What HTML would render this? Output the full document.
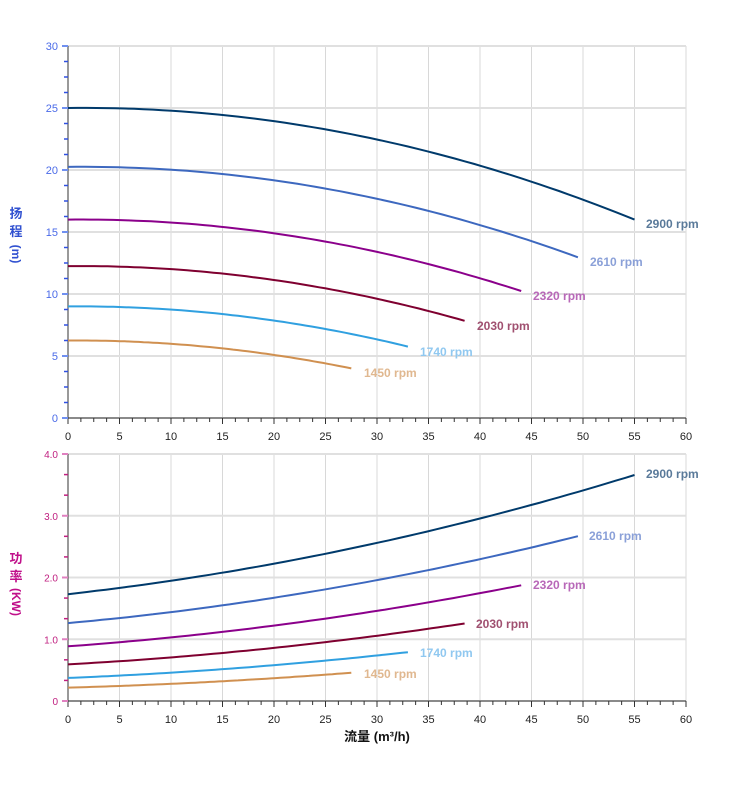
<!DOCTYPE html><html><head><meta charset="utf-8"><style>body{margin:0;background:#fff}svg{display:block}text{font-family:"Liberation Sans","Noto Sans CJK SC",sans-serif}</style></head><body>
<svg id="s" width="752" height="797" xmlns="http://www.w3.org/2000/svg"></svg>
<script>
const s=document.getElementById('s');let h='';
const X=q=>68+q*10.3, YT=v=>418-v*12.4, YB=v=>701-v*61.75;
for(let q=0;q<=60;q+=5){h+=`<line x1="${X(q)}" y1="46" x2="${X(q)}" y2="418" stroke="#d8d8d8"/><line x1="${X(q)}" y1="454" x2="${X(q)}" y2="701" stroke="#d8d8d8"/>`;}
for(let v=0;v<=30;v+=5)h+=`<line x1="68" y1="${YT(v)}" x2="686" y2="${YT(v)}" stroke="#e0e0e0" stroke-width="2"/>`;
for(let v=0;v<=4;v++)h+=`<line x1="68" y1="${YB(v)}" x2="686" y2="${YB(v)}" stroke="#e0e0e0" stroke-width="2"/>`;
h+=`<line x1="68" y1="46" x2="68" y2="418" stroke="#333"/><line x1="68" y1="418" x2="686" y2="418" stroke="#333"/>`;
h+=`<line x1="68" y1="454" x2="68" y2="701" stroke="#333"/><line x1="68" y1="701" x2="686" y2="701" stroke="#333"/>`;
for(let q=0;q<=60;q+=1.25){const L=q%5==0?6:4;h+=`<line x1="${X(q)}" y1="418" x2="${X(q)}" y2="${418+L}" stroke="#333"/><line x1="${X(q)}" y1="701" x2="${X(q)}" y2="${701+L}" stroke="#333"/>`;}
for(let q=0;q<=60;q+=5){h+=`<text x="${X(q)}" y="440" font-size="11" text-anchor="middle" fill="#222">${q}</text><text x="${X(q)}" y="723" font-size="11" text-anchor="middle" fill="#222">${q}</text>`;}
for(let v=0;v<=30;v+=1.25){const M=v%5==0;h+=`<line x1="${M?62:64}" y1="${YT(v)}" x2="68" y2="${YT(v)}" stroke="${M?'#7090f0':'#3050e0'}" stroke-width="${M?2:1.5}"/>`;if(M)h+=`<text x="58" y="${YT(v)+4}" font-size="11" text-anchor="end" fill="#4a6ae8">${v}</text>`;}
for(let i=0;i<=12;i++){const v=i/3,M=i%3==0;h+=`<line x1="${M?62:64}" y1="${YB(v)}" x2="68" y2="${YB(v)}" stroke="${M?'#e080c0':'#c02080'}" stroke-width="${M?2:1.5}"/>`;if(M)h+=`<text x="58" y="${YB(v)+4}" font-size="10" text-anchor="end" fill="#c02080">${i==0?'0':v.toFixed(1)}</text>`;}
h+=`<text x="16" y="218" font-size="13" font-weight="bold" fill="#3050d0" text-anchor="middle">扬</text><text x="16" y="236" font-size="13" font-weight="bold" fill="#3050d0" text-anchor="middle">程</text><text transform="translate(12,254) rotate(90)" font-size="12" font-weight="bold" fill="#3050d0" text-anchor="middle">(m)</text>`;
h+=`<text x="16" y="563" font-size="13" font-weight="bold" fill="#c0108a" text-anchor="middle">功</text><text x="16" y="581" font-size="13" font-weight="bold" fill="#c0108a" text-anchor="middle">率</text><text transform="translate(12,602) rotate(90)" font-size="12" font-weight="bold" fill="#c0108a" text-anchor="middle">(KW)</text>`;
h+=`<text x="377" y="741" font-size="13" font-weight="bold" fill="#111" text-anchor="middle">流量 (m³/h)</text>`;
const H=q=>25+0.01*q-0.003157*q*q, P=q=>1.73+0.01876*q+0.000297*q*q;
const S=[[1,'#003a6b','#5a7a9a'],[0.9,'#3d68bf','#8aa0d8'],[0.8,'#8b008b','#b868b8'],[0.7,'#7f0030','#a05070'],[0.6,'#30a0e0','#90c8f0'],[0.5,'#d09050','#e0b890']];
const lt=[[646,223],[590,261],[533,295],[477,325],[420,351],[364,372]],lb=[[646,473],[589,535],[533,584],[476,623],[420,652],[364,673]];
S.forEach((c,i)=>{const r=c[0],qe=55*r;let a=[],b=[];for(let k=0;k<=60;k++){const q=qe*k/60;a.push(X(q).toFixed(1)+','+YT(r*r*H(q/r)).toFixed(1));b.push(X(q).toFixed(1)+','+YB(r*r*r*P(q/r)).toFixed(1));}
h+=`<polyline points="${a.join(' ')}" fill="none" stroke="${c[1]}" stroke-width="2"/><polyline points="${b.join(' ')}" fill="none" stroke="${c[1]}" stroke-width="2"/>`;
const t=Math.round(2900*r/10)*10+' rpm';
h+=`<text x="${lt[i][0]}" y="${lt[i][1]+5}" font-size="12" font-weight="bold" fill="${c[2]}">${t}</text><text x="${lb[i][0]}" y="${lb[i][1]+5}" font-size="12" font-weight="bold" fill="${c[2]}">${t}</text>`;});
s.innerHTML=h;
</script></body></html>
